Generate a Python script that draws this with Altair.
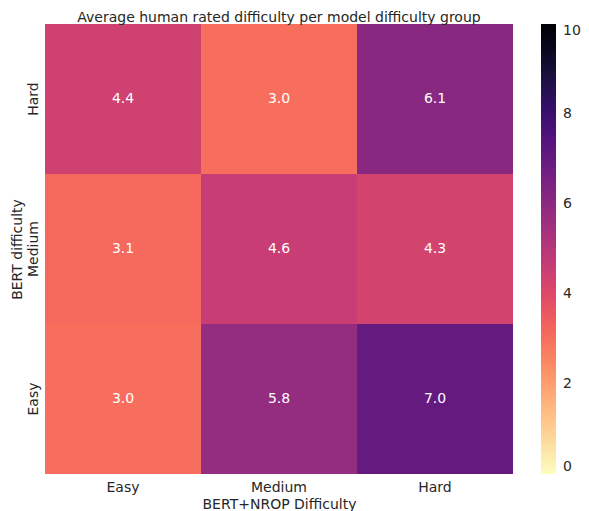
import altair as alt
import pandas as pd

cols = ["Easy", "Medium", "Hard"]
rows = ["Hard", "Medium", "Easy"]
values = [
    [4.4, 3.0, 6.1],
    [3.1, 4.6, 4.3],
    [3.0, 5.8, 7.0],
]

recs = []
for i, r in enumerate(rows):
    for j, c in enumerate(cols):
        recs.append({"bert": r, "nrop": c, "v": values[i][j]})
df = pd.DataFrame(recs)

FONT = "DejaVu Sans"
TXT = "#262626"

base = alt.Chart(df).encode(
    x=alt.X("nrop:N", sort=cols, title="BERT+NROP Difficulty",
            axis=alt.Axis(labelAngle=0, ticks=False, domain=False, labelFontSize=14,
                          titleFontSize=14, titleFontWeight="normal", labelColor=TXT,
                          titleColor=TXT, labelPadding=6, titlePadding=3, labelFont=FONT,
                          titleFont=FONT)),
    y=alt.Y("bert:N", sort=rows, title="BERT difficulty",
            axis=alt.Axis(labelAngle=270, labelAlign="center", labelBaseline="bottom",
                          ticks=False, domain=False, labelFontSize=14, titleFontSize=14,
                          titleFontWeight="normal", labelColor=TXT, titleColor=TXT,
                          labelPadding=5, titlePadding=2, labelFont=FONT, titleFont=FONT)),
)

rect = base.mark_rect().encode(
    color=alt.Color("v:Q", title=None,
                    scale=alt.Scale(scheme="magma", reverse=True, domain=[0, 10]),
                    legend=alt.Legend(orient="right", gradientLength=450, gradientThickness=15,
                                      offset=28, padding=0, values=[0, 2, 4, 6, 8, 10],
                                      labelFontSize=14, labelColor=TXT, labelFont=FONT,
                                      labelOffset=7, gradientStrokeWidth=0))
)

text = base.mark_text(color="white", fontSize=14, font=FONT).encode(
    text=alt.Text("v:Q", format=".1f")
)

chart = (rect + text).properties(
    width=468, height=450,
    title=alt.TitleParams("Average human rated difficulty per model difficulty group",
                          fontSize=14, fontWeight="normal", color=TXT, font=FONT,
                          anchor="middle", offset=-1),
    autosize=alt.AutoSizeParams(type="none"),
    padding={"left": 37, "top": 16, "right": 68, "bottom": 40},
).configure_view(stroke=None).configure_scale(bandPaddingInner=0, bandPaddingOuter=0)

chart.save("out.html", embed_options={"renderer": "svg", "actions": False})
